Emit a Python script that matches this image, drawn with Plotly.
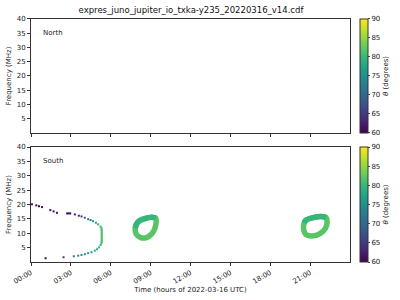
import plotly.graph_objects as go
import plotly.colors as pc

# ---- data ----
title_text = "expres_juno_jupiter_io_txka-y235_20220316_v14.cdf"
tick_hours = [0, 3, 6, 9, 12, 15, 18, 21]
tick_labels = ["00:00", "03:00", "06:00", "09:00", "12:00", "15:00", "18:00", "21:00"]

# South: parabola-like arc (time h, freq MHz, theta deg)
arc_t = [0.07, 0.40, 0.60, 0.83, 1.45, 1.70, 1.95, 2.72, 2.84, 2.95, 3.30, 3.60, 3.80, 4.05,
         4.30, 4.48, 4.67, 4.88, 5.05, 5.23,
         5.30, 5.31, 5.32, 5.32, 5.32, 5.32, 5.32, 5.32, 5.32, 5.32, 5.31, 5.30,
         5.23, 5.12, 4.97, 4.80, 4.55, 4.30, 4.05, 3.80, 3.55, 3.22, 2.45, 1.10]
arc_f = [20.1, 19.7, 19.4, 19.1, 18.05, 17.6, 17.1, 16.9, 16.9, 16.9, 16.55, 16.1, 15.85, 15.4,
         14.9, 14.6, 14.2, 13.65, 13.1, 12.3,
         11.8, 11.3, 10.8, 10.3, 9.8, 9.3, 8.8, 8.3, 7.8, 7.3, 6.9, 6.5,
         5.9, 5.1, 4.45, 3.95, 3.4, 3.05, 2.7, 2.45, 2.2, 2.0, 1.65, 1.3]
arc_theta = [60.5, 60.5, 60.5, 61, 61, 61, 61, 61, 61, 61, 62, 63, 65, 69,
             72, 74, 76, 78, 79, 80,
             81, 81, 81, 81, 81, 81, 81, 81, 81, 81, 81, 81,
             80, 80, 79, 78, 77, 76, 75, 74, 73, 72, 65, 61]

# South: two ring-shaped emissions (centerline, time h, freq MHz)
ring1_t = [8.03, 8.55, 9.08, 9.38, 9.41, 9.30, 9.08, 8.70, 8.25, 7.91, 7.84, 8.03]
ring1_f = [13.9, 15.1, 15.6, 15.3, 13.55, 11.5, 9.75, 8.5, 8.5, 9.75, 11.8, 13.9]
ring2_t = [20.70, 21.23, 21.83, 22.20, 22.28, 22.16, 21.75, 21.15, 20.70, 20.51, 20.55, 20.70]
ring2_f = [14.6, 15.45, 15.8, 15.45, 13.9, 11.8, 9.9, 9.05, 9.55, 11.5, 13.55, 14.6]
ring_theta_lower = 82
ring_theta_upper = 80

theta_min, theta_max = 60, 90
cb_ticks = [60, 65, 70, 75, 80, 85, 90]
freq_ticks = [5, 10, 15, 20, 25, 30, 35, 40]


def viridis(v):
    frac = (v - theta_min) / (theta_max - theta_min)
    return pc.sample_colorscale("Viridis", [frac])[0]


fig = go.Figure()

# top (North) - empty panel with colorbar
fig.add_trace(go.Scatter(x=[None], y=[None], mode="markers", xaxis="x", yaxis="y",
                         marker=dict(color=[theta_min], coloraxis="coloraxis"),
                         showlegend=False, hoverinfo="skip"))

for rt, rf in [(ring1_t, ring1_f), (ring2_t, ring2_f)]:
    fig.add_trace(go.Scatter(x=rt, y=rf, mode="lines", xaxis="x2", yaxis="y2",
                             line=dict(color=viridis(ring_theta_lower), width=5.5,
                                       shape="spline", smoothing=0.9),
                             showlegend=False))
    # slightly darker upper part of the ring
    up_t = [rt[10]] + rt[0:4]
    up_f = [rf[10]] + rf[0:4]
    fig.add_trace(go.Scatter(x=up_t, y=up_f, mode="lines", xaxis="x2", yaxis="y2",
                             line=dict(color=viridis(ring_theta_upper), width=5.5,
                                       shape="spline", smoothing=0.9),
                             showlegend=False))

fig.add_trace(go.Scatter(x=arc_t, y=arc_f, mode="markers", xaxis="x2", yaxis="y2",
                         marker=dict(symbol="square", size=2, color=arc_theta,
                                     coloraxis="coloraxis2", line=dict(width=0)),
                         showlegend=False))

axis_common = dict(showline=True, linecolor="#333", linewidth=1, mirror=True, automargin=False,
                   ticks="outside", ticklen=3, tickcolor="#333", showgrid=False, zeroline=False,
                   tickfont=dict(size=7, color="#222"))


def cbar(ytop, length):
    return dict(x=0.9, xanchor="left", y=ytop, yanchor="top",
                len=length, lenmode="fraction", thickness=8,
                outlinecolor="#333", outlinewidth=1,
                tickvals=cb_ticks, ticks="outside", ticklen=2,
                tickfont=dict(size=7), xpad=0, ypad=0,
                title=dict(text="<i>θ</i> (degrees)", side="right", font=dict(size=7)))


x_dom = [0.0775, 0.875]
fig.update_layout(
    width=400, height=300,
    margin=dict(l=0, r=0, t=0, b=0, autoexpand=False),
    paper_bgcolor="white", plot_bgcolor="white",
    font=dict(family="DejaVu Sans", color="#222"),
    title=dict(text=title_text, x=0.4775, xanchor="center", y=0.965, yanchor="middle",
               font=dict(size=8.5, color="#111")),
    xaxis=dict(domain=x_dom, range=[0, 24], tickvals=tick_hours, showticklabels=False,
               anchor="y", **axis_common),
    yaxis=dict(domain=[0.5567, 0.9367], range=[0, 40], tickvals=freq_ticks,
               anchor="x", title=dict(text="Frequency (MHz)", font=dict(size=7), standoff=4),
               **axis_common),
    xaxis2=dict(domain=x_dom, range=[0, 24], tickvals=tick_hours, ticktext=tick_labels,
                tickangle=-30, anchor="y2",
                title=dict(text="Time (hours of 2022-03-16 UTC)", font=dict(size=7), standoff=2),
                **axis_common),
    yaxis2=dict(domain=[0.1267, 0.51], range=[0, 40], tickvals=freq_ticks,
                anchor="x2", title=dict(text="Frequency (MHz)", font=dict(size=7), standoff=4),
                **axis_common),
    coloraxis=dict(colorscale="Viridis", cmin=theta_min, cmax=theta_max,
                   colorbar=cbar(0.9367, 0.38)),
    coloraxis2=dict(colorscale="Viridis", cmin=theta_min, cmax=theta_max,
                    colorbar=cbar(0.51, 0.3833)),
    annotations=[
        dict(text="North", x=0.03, y=0.93, xref="x domain", yref="y domain",
             xanchor="left", yanchor="top", showarrow=False, font=dict(size=7)),
        dict(text="South", x=0.03, y=0.93, xref="x2 domain", yref="y2 domain",
             xanchor="left", yanchor="top", showarrow=False, font=dict(size=7)),
    ],
)

fig.write_html("out.html")
